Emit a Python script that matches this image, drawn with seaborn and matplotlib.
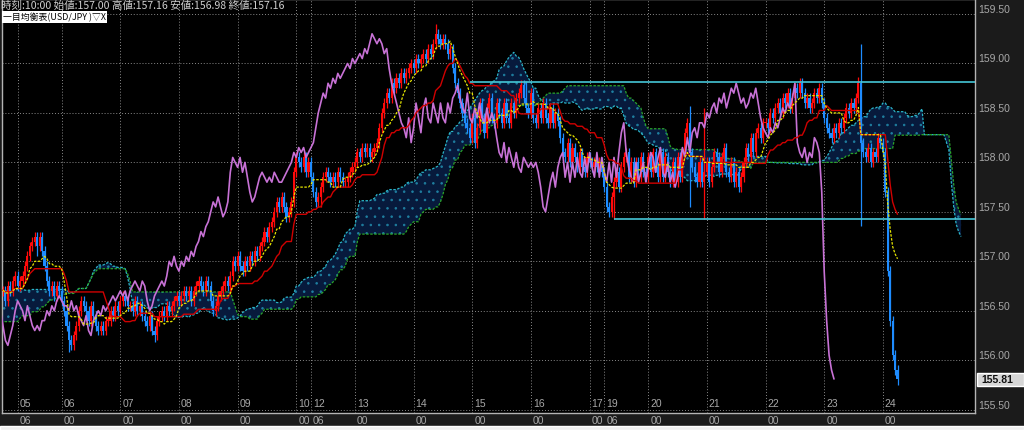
import numpy as np
import pandas as pd
import matplotlib
matplotlib.use("Agg")
import matplotlib.pyplot as plt
import matplotlib.transforms as mtransforms
from matplotlib.patches import Rectangle
import seaborn as sns

# hourly closes of the hidden history before the first visible candle (needed for the cloud)
prior_close = [
    156.10, 156.05, 156.00, 156.10, 156.15, 156.05, 155.98, 156.05, 156.12, 156.20,
    156.15, 156.10, 156.20, 156.25, 156.18, 156.22, 156.30, 156.28, 156.35,
    156.40, 156.45, 156.42, 156.50, 156.48, 156.55, 156.52, 156.60, 156.58, 156.62,
    156.55, 156.60, 156.65, 156.60, 156.68, 156.62, 156.66, 156.70, 156.65, 156.70,
    156.72, 156.68, 156.75, 156.70, 156.66, 156.72, 156.78, 156.74, 156.70, 156.65,
    156.70, 156.76, 156.80, 156.74, 156.70, 156.68, 156.72, 156.66, 156.70, 156.75,
    156.72, 156.68, 156.64, 156.70, 156.74, 156.78, 156.72, 156.68, 156.70, 156.74,
    156.70, 156.66, 156.72, 156.76, 156.70, 156.68, 156.72, 156.75, 156.70,
]

# visible hourly closes, one list per trading day
close_03 = [156.70, 156.60, 156.75, 156.70, 156.80, 156.85]
close_05 = [156.75, 156.80, 156.85, 156.95, 157.05, 157.15, 157.20, 157.25, 157.15, 157.25,
            157.10, 156.95, 156.80, 156.70, 156.75, 156.65, 156.75, 156.70]
close_06 = [156.60, 156.50, 156.35, 156.20, 156.15, 156.25, 156.35, 156.50, 156.60, 156.55,
            156.50, 156.40, 156.55, 156.45, 156.35, 156.30, 156.35, 156.30, 156.40, 156.40,
            156.50, 156.45, 156.55, 156.50]
close_07 = [156.60, 156.65, 156.60, 156.55, 156.55, 156.50, 156.60, 156.50, 156.55, 156.45,
            156.40, 156.35, 156.45, 156.30, 156.25, 156.40, 156.45, 156.50, 156.45, 156.55,
            156.50, 156.55, 156.60, 156.65]
close_08 = [156.60, 156.65, 156.70, 156.65, 156.70, 156.60, 156.70, 156.75, 156.80, 156.75,
            156.70, 156.80, 156.75, 156.60, 156.50, 156.55, 156.65, 156.70, 156.75, 156.80,
            156.75, 156.85, 157.00, 156.95]
close_09 = [157.05, 156.95, 156.90, 157.00, 156.95, 157.05, 157.00, 157.10, 157.05, 157.15,
            157.20, 157.30, 157.25, 157.35, 157.40, 157.50, 157.60, 157.55, 157.65, 157.55,
            157.45, 157.50, 157.60, 157.90]
close_10 = [158.05, 158.00, 157.95, 158.05, 157.90, 158.00]
close_12 = [157.85, 157.70, 157.60, 157.65, 157.75, 157.85, 157.90, 157.85, 157.80, 157.85,
            157.80, 157.90, 157.85, 157.80, 157.80, 157.85, 157.90, 157.95]
close_13 = [158.00, 158.10, 158.05, 158.15, 158.10, 158.15, 158.05, 158.10, 158.15, 158.20,
            158.35, 158.50, 158.60, 158.70, 158.65, 158.80, 158.75, 158.85, 158.80, 158.90,
            158.85, 158.90, 158.95, 159.00]
close_14 = [158.95, 159.05, 159.00, 159.05, 159.10, 159.05, 159.15, 159.10, 159.20, 159.30,
            159.25, 159.20, 159.25, 159.20, 159.10, 159.15, 158.95, 158.80, 158.70, 158.60,
            158.50, 158.40, 158.35, 158.25]
close_15 = [158.45, 158.20, 158.35, 158.60, 158.45, 158.30, 158.55, 158.65, 158.45, 158.40,
            158.60, 158.50, 158.40, 158.60, 158.45, 158.40, 158.60, 158.50, 158.65, 158.70,
            158.78, 158.65, 158.55, 158.50]
close_16 = [158.70, 158.45, 158.40, 158.55, 158.45, 158.60, 158.45, 158.40, 158.55, 158.40,
            158.50, 158.42, 158.25, 158.10, 158.05, 158.20, 158.00, 158.15, 158.05, 157.95,
            158.10, 157.95, 157.90, 158.05]
close_17 = [158.00, 157.95, 158.00, 157.95, 158.00, 157.90]
close_19 = [157.75, 157.55, 157.50, 157.65, 157.80, 157.90, 157.75, 157.95, 158.05, 158.10,
            157.85, 158.00, 157.80, 158.00, 157.85, 158.05, 157.90, 157.85]
close_20 = [158.05, 157.90, 158.10, 157.95, 157.85, 158.10, 157.85, 158.05, 157.90, 157.80,
            158.00, 157.80, 158.05, 157.85, 158.10, 158.30, 158.40, 158.10, 157.95, 157.85,
            157.80, 158.00, 157.80, 157.90]
close_21 = [158.00, 157.80, 157.95, 158.10, 158.05, 157.90, 158.05, 158.15, 157.90, 157.85,
            158.00, 157.80, 157.90, 157.75, 157.85, 158.00, 158.15, 158.05, 158.25, 158.10,
            158.30, 158.35, 158.25, 158.40]
close_22 = [158.40, 158.35, 158.50, 158.45, 158.55, 158.60, 158.50, 158.65, 158.60, 158.70,
            158.55, 158.65, 158.75, 158.70, 158.80, 158.70, 158.60, 158.65, 158.55, 158.60,
            158.70, 158.65, 158.75, 158.60]
close_23 = [158.45, 158.35, 158.30, 158.25, 158.35, 158.30, 158.40, 158.35, 158.45, 158.55,
            158.50, 158.60, 158.55, 158.65, 158.80, 158.20, 158.10, 158.05, 158.15, 158.00,
            158.10, 158.05, 158.25, 158.20]
close_24 = [158.10, 157.70, 156.90, 156.40, 156.05, 155.90, 155.81]

# long wicks that stand out: candle index -> (high, low)
spikes = {14: (157.30, 157.05), 27: (156.22, 156.08), 62: (156.32, 156.18),
          130: (157.70, 157.55), 177: (159.40, 159.20), 214: (158.82, 158.60),
          250: (157.65, 157.43), 281: (158.57, 157.55), 287: (158.55, 157.43),
          326: (158.85, 158.65), 350: (158.86, 158.60), 351: (159.20, 157.36),
          366: (155.92, 155.75)}

day_pos = [6, 24, 48, 72, 96, 120, 126, 144, 168, 192, 216, 240, 246, 264, 288, 312, 336, 360]
day_labels = ["05", "06", "07", "08", "09", "10", "12", "13", "14", "15", "16", "17", "19",
              "20", "21", "22", "23", "24"]
hour_labels = ["06", "00", "00", "00", "00", "00", "06", "00", "00", "00", "00", "00", "06",
               "00", "00", "00", "00", "00"]
price_ticks = [155.5, 156.0, 156.5, 157.0, 157.5, 158.0, 158.5, 159.0, 159.5]
hline_high, hline_high_from = 158.81, 191
hline_low, hline_low_from = 157.43, 250
last_price = 155.81
header = "時刻:10:00 始値:157.00 高値:157.16 安値:156.98 終値:157.16"
legend_name = "一目均衡表(USD/JPY )▽X"

# ---- build OHLC + ichimoku
visible = (close_03 + close_05 + close_06 + close_07 + close_08 + close_09 + close_10
           + close_12 + close_13 + close_14 + close_15 + close_16 + close_17 + close_19
           + close_20 + close_21 + close_22 + close_23 + close_24)
closes = np.array(prior_close + visible)
n_prior = len(prior_close)
df = pd.DataFrame({"x": np.arange(len(closes)) - n_prior, "close": closes})
df["open"] = df["close"].shift(1).fillna(df["close"].iloc[0])
df["high"] = df[["open", "close"]].max(axis=1) + 0.05
df["low"] = df[["open", "close"]].min(axis=1) - 0.05
for i, (h, l) in spikes.items():
    r = i + n_prior
    df.loc[r, "high"] = max(h, df.loc[r, "high"])
    df.loc[r, "low"] = min(l, df.loc[r, "low"])

tenkan = (df["high"].rolling(9).max() + df["low"].rolling(9).min()) / 2
kijun = (df["high"].rolling(26).max() + df["low"].rolling(26).min()) / 2
span_a = (tenkan + kijun) / 2
span_b = (df["high"].rolling(52).max() + df["low"].rolling(52).min()) / 2
df["tenkan"], df["kijun"], df["span_a"], df["span_b"] = tenkan, kijun, span_a, span_b

vis = df[df["x"] >= 0].reset_index(drop=True)
lead = df.dropna(subset=["span_b"]).copy()
lead["x"] = lead["x"] + 26
lead = lead[lead["x"] >= -2]
lag = vis.copy()
lag["x"] = lag["x"] - 26

# ---- figure
sns.set_theme(style="dark", rc={"axes.facecolor": "black", "figure.facecolor": "#1b1b1b"})
plt.rcParams["font.family"] = ["Liberation Sans", "DejaVu Sans"]
plt.rcParams["hatch.linewidth"] = 0.6

fig = plt.figure(figsize=(10.24, 4.31), dpi=100)
ax = fig.add_axes([2 / 1024, 17 / 431, 973 / 1024, 414 / 431])
ax.set_facecolor("black")

# cloud
ax.fill_between(lead["x"], lead["span_a"], lead["span_b"], facecolor="#071a3c",
                edgecolor="#1f7fa0", hatch="..", linewidth=0, zorder=1)
sns.lineplot(x=lead["x"], y=lead["span_a"], ax=ax, color="#2bb5c8", linewidth=0.9,
             linestyle=(0, (2, 1.2)), zorder=2)
sns.lineplot(x=lead["x"], y=lead["span_b"], ax=ax, color="#2aa52a", linewidth=0.9,
             linestyle=(0, (2, 1.2)), zorder=2)

# candles
up = vis["close"] >= vis["open"]
cols = np.where(up, "#ff0a0a", "#1e8cff")
body = (vis["close"] - vis["open"]).where((vis["close"] - vis["open"]).abs() > 0.012, 0.012)
ax.vlines(vis["x"], vis["low"], vis["high"], colors=cols, linewidth=0.9, zorder=3)
ax.bar(vis["x"], body, bottom=vis["open"], width=0.86, color=cols, linewidth=0, zorder=4)

# lines
sns.lineplot(x=lag["x"], y=lag["close"], ax=ax, color="#c872d6", linewidth=1.2, zorder=5)
sns.lineplot(x=vis["x"], y=vis["kijun"], ax=ax, color="#d00000", linewidth=1.0, zorder=5)
sns.lineplot(x=vis["x"], y=vis["tenkan"], ax=ax, color="#e6e600", linewidth=0.9,
             linestyle=(0, (2, 1.2)), zorder=6)

ax.hlines(hline_high, hline_high_from, 400, color="#45c6d6", linewidth=1.2, zorder=7)
ax.hlines(hline_low, hline_low_from, 400, color="#45c6d6", linewidth=1.2, zorder=7)

# axes look
ax.set_xlim(-0.4, 397.7)
ax.set_ylim(155.466, 159.652)
ax.set_xlabel("")
ax.set_ylabel("")
ax.set_xticks(day_pos)
ax.set_xticklabels([])
ax.set_yticks(price_ticks)
ax.yaxis.tick_right()
ax.set_yticklabels([f"{p:.2f}" for p in price_ticks])
ax.tick_params(axis="both", length=0)
ax.tick_params(axis="y", pad=2, labelsize=7.5, labelcolor="#a8a8a8")
for lab in ax.get_yticklabels():
    lab.set_va("bottom")
ax.grid(True, color="#8a8a8a", linestyle=(0, (1, 2)), linewidth=0.7)
ax.set_axisbelow(True)
for sp in ax.spines.values():
    sp.set_color("#b4b4b4")
    sp.set_linewidth(1.0)

trans = mtransforms.blended_transform_factory(ax.transData, ax.transAxes)
for pos, dl, hl in zip(day_pos, day_labels, hour_labels):
    ax.text(pos + 0.8, 0.025, dl, transform=trans, color="#a8a8a8", fontsize=7.5,
            ha="left", va="center")
    ax.text(pos + 0.8, -0.018, hl, transform=trans, color="#a8a8a8", fontsize=7.5,
            ha="left", va="center", clip_on=False)

# last price box on the right scale
ybox = 1 - 380 / 431
fig.patches.append(Rectangle((977 / 1024, ybox - 6.5 / 431), 47 / 1024, 13 / 431,
                             transform=fig.transFigure, facecolor="#d6d6d6", zorder=5))
fig.text(981 / 1024, ybox, f"{last_price:.2f}", color="#101010", fontsize=7.5,
         fontweight="bold", va="center", ha="left", zorder=6)
fig.patches.append(Rectangle((0, 0), 1, 4 / 431, transform=fig.transFigure,
                             facecolor="#efefef", zorder=0))

# header texts
cjk = ["Noto Sans CJK JP", "DejaVu Sans"]
fig.text(1 / 1024, 1 - 6 / 431, header, color="#cfcfcf", fontsize=7.6, family=cjk,
         va="center", ha="left")
fig.text(3 / 1024, 1 - 18 / 431, legend_name, color="#000000", fontsize=6.4, family=cjk,
         va="center", ha="left",
         bbox=dict(facecolor="white", edgecolor="none", boxstyle="square,pad=0.15"))

fig.savefig("out.png", dpi=100, facecolor=fig.get_facecolor())
